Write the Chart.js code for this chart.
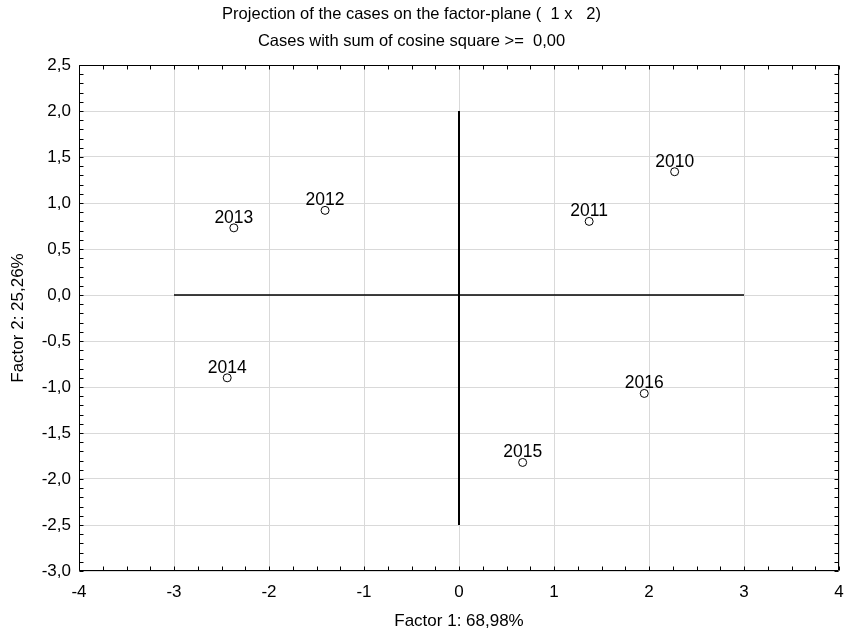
<!DOCTYPE html>
<html><head><meta charset="utf-8">
<script src="https://cdn.jsdelivr.net/npm/chart.js@4.4.1/dist/chart.umd.min.js"></script>
<style>html,body{margin:0;padding:0;background:#fff}canvas{display:block}</style>
</head><body>
<canvas id="c" width="846" height="630"></canvas>
<script>
const caseLabels = ['2010','2011','2012','2013','2014','2015','2016'];
const factor1 = [2.27, 1.37, -1.41, -2.37, -2.44, 0.67, 1.95];
const factor2 = [1.34, 0.80, 0.92, 0.73, -0.90, -1.82, -1.07];
const xTickValues = [-4,-3,-2,-1,0,1,2,3,4];
const xTickLabels = ['-4','-3','-2','-1','0','1','2','3','4'];
const yTickValues = [-3,-2.5,-2,-1.5,-1,-0.5,0,0.5,1,1.5,2,2.5];
const yTickLabels = ['-3,0','-2,5','-2,0','-1,5','-1,0','-0,5','0,0','0,5','1,0','1,5','2,0','2,5'];
const hAxisLineX = [-3, 3];
const hAxisLineY = [0, 0];
const vAxisLineX = [0, 0];
const vAxisLineY = [-2.5, 2.0];
const titleLines = ['Projection of the cases on the factor-plane (  1 x   2)', 'Cases with sum of cosine square >=  0,00'];
const xTitle = 'Factor 1: 68,98%';
const yTitle = 'Factor 2: 25,26%';

const FONT = 'Liberation Sans, Arial, sans-serif';
const TITLE_SIZE = 16.5;

function labelFor(values, labels, v) {
  for (let i = 0; i < values.length; i++) if (Math.abs(values[i] - v) < 1e-9) return labels[i];
  return '';
}

const framePlugin = {
  id: 'frame',
  afterLayout(chart) {
    if (chart.titleBlock) { chart.titleBlock.right -= 16; }
  },
  afterDraw(chart) {
    const ctx = chart.ctx, a = chart.chartArea;
    const xs = chart.scales.x, ys = chart.scales.y;
    ctx.save();
    ctx.strokeStyle = '#000';
    ctx.lineWidth = 1;
    const L = Math.round(a.left) + 0.5, R = Math.round(a.right) - 0.5;
    const T = Math.round(a.top) + 0.5, B = Math.round(a.bottom) - 0.5;
    ctx.beginPath();
    ctx.rect(L, T, R - L, B - T);
    ctx.stroke();
    ctx.beginPath();
    for (let i = 0; i <= 32; i++) {
      const px = Math.round(xs.getPixelForValue(xs.min + i * 0.25)) + 0.5;
      ctx.moveTo(px, B); ctx.lineTo(px, B - 4);
      ctx.moveTo(px, T); ctx.lineTo(px, T + 4);
    }
    for (let i = 0; i <= 55; i++) {
      const py = Math.round(ys.getPixelForValue(ys.min + i * 0.1)) + 0.5;
      ctx.moveTo(L, py); ctx.lineTo(L + 4, py);
      ctx.moveTo(R, py); ctx.lineTo(R - 4, py);
    }
    ctx.stroke();
    ctx.restore();
  },
  afterDatasetsDraw(chart) {
    const ctx = chart.ctx;
    const meta = chart.getDatasetMeta(2);
    ctx.save();
    ctx.fillStyle = '#000';
    ctx.font = '17.5px ' + FONT;
    ctx.textAlign = 'center';
    ctx.textBaseline = 'middle';
    meta.data.forEach((pt, i) => {
      ctx.fillText(caseLabels[i], pt.x, pt.y - 10);
    });
    ctx.restore();
  }
};

new Chart(document.getElementById('c'), {
  type: 'scatter',
  data: {
    datasets: [
      { type: 'line', data: hAxisLineX.map((x, i) => ({x, y: hAxisLineY[i]})), borderColor: '#000', borderWidth: 1.5, pointRadius: 0, showLine: true, fill: false, order: 3 },
      { type: 'line', data: vAxisLineX.map((x, i) => ({x, y: vAxisLineY[i]})), borderColor: '#000', borderWidth: 2, pointRadius: 0, showLine: true, fill: false, order: 2 },
      { data: factor1.map((x, i) => ({x, y: factor2[i]})), pointRadius: 4, pointHoverRadius: 4, pointBackgroundColor: '#fff', pointBorderColor: '#000', pointBorderWidth: 1, order: 1 }
    ]
  },
  options: {
    responsive: false,
    animation: false,
    devicePixelRatio: 1,
    layout: { padding: { left: 0, right: 7, top: 0, bottom: 0 } },
    plugins: {
      legend: { display: false },
      tooltip: { enabled: false },
      title: {
        display: true, text: titleLines, color: '#000',
        font: { family: FONT, size: TITLE_SIZE, weight: 'normal', lineHeight: 27 / TITLE_SIZE },
        padding: { top: 0.5, bottom: 10.5 }
      }
    },
    scales: {
      x: {
        type: 'linear', min: -4, max: 4,
        afterFit(s) { s.height = 59; s.paddingLeft = 0; s.paddingRight = 0; },
        afterBuildTicks(s) { s.ticks = xTickValues.map(v => ({ value: v })); },
        ticks: { color: '#000', padding: 11.5, maxRotation: 0, autoSkip: false, font: { family: FONT, size: 17 },
          callback: v => labelFor(xTickValues, xTickLabels, v) },
        grid: { color: '#d9d9d9', drawTicks: false, lineWidth: 1 },
        border: { display: false },
        title: { display: true, text: xTitle, color: '#000', font: { family: FONT, size: 17 }, padding: { top: 0, bottom: -2 } }
      },
      y: {
        type: 'linear', min: -3, max: 2.5,
        afterFit(s) { s.width = 79; s.paddingTop = 0; s.paddingBottom = 0; },
        afterBuildTicks(s) { s.ticks = yTickValues.map(v => ({ value: v })); },
        ticks: { color: '#000', padding: 8, autoSkip: false, font: { family: FONT, size: 17 },
          callback: v => labelFor(yTickValues, yTickLabels, v) },
        grid: { color: '#d9d9d9', drawTicks: false, lineWidth: 1 },
        border: { display: false },
        title: { display: true, text: yTitle, color: '#000', font: { family: FONT, size: 17 }, padding: { top: 8, bottom: 0 } }
      }
    }
  },
  plugins: [framePlugin]
});
</script>
</body></html>
